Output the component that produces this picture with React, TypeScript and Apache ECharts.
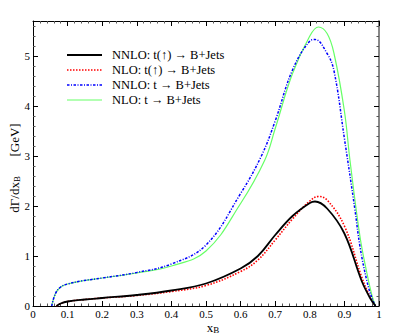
import React, { useEffect, useRef } from "react";
import * as echarts from "echarts";

const xTickLabels = ["0", "0.1", "0.2", "0.3", "0.4", "0.5", "0.6", "0.7", "0.8", "0.9", "1"];

const seriesNames = [
  "NNLO: t(\u2191) \u2192 B+Jets",
  "NLO: t(\u2191) \u2192 B+Jets",
  "NNLO: t \u2192 B+Jets",
  "NLO: t \u2192 B+Jets",
];

const xAxisTitle = "x{sub|B}";
const yAxisTitle = "d\u0393/dx{sub|B}      [GeV]";

const nnloPolX = [0.068, 0.08, 0.1, 0.15, 0.2, 0.3, 0.4, 0.5, 0.6, 0.65, 0.7, 0.75, 0.8, 0.815, 0.85, 0.9, 0.95, 0.975, 0.99];
const nnloPolY = [0, 0.05, 0.09, 0.13, 0.16, 0.22, 0.31, 0.45, 0.75, 1.0, 1.42, 1.8, 2.06, 2.09, 1.95, 1.45, 0.5, 0.15, 0];

const nloPolX = [0.068, 0.08, 0.1, 0.15, 0.2, 0.3, 0.4, 0.5, 0.6, 0.65, 0.7, 0.75, 0.8, 0.825, 0.85, 0.9, 0.95, 0.975, 0.99];
const nloPolY = [0, 0.05, 0.09, 0.13, 0.16, 0.21, 0.29, 0.41, 0.69, 0.92, 1.32, 1.74, 2.1, 2.19, 2.12, 1.6, 0.58, 0.17, 0];

const nnloX = [0.054, 0.065, 0.08, 0.1, 0.14, 0.2, 0.3, 0.4, 0.5, 0.6, 0.66, 0.7, 0.75, 0.8, 0.815, 0.85, 0.87, 0.9, 0.93, 0.945, 0.965, 0.98, 0.99];
const nnloY = [0, 0.25, 0.38, 0.44, 0.5, 0.56, 0.67, 0.84, 1.22, 2.25, 3.0, 3.7, 4.72, 5.3, 5.33, 5.05, 4.7, 3.35, 1.95, 1.19, 0.5, 0.15, 0];

const nloX = [0.054, 0.065, 0.08, 0.1, 0.14, 0.2, 0.3, 0.4, 0.5, 0.6, 0.67, 0.7, 0.75, 0.8, 0.825, 0.85, 0.87, 0.9, 0.916, 0.945, 0.965, 0.98, 0.99];
const nloY = [0, 0.25, 0.38, 0.44, 0.5, 0.56, 0.66, 0.8, 1.1, 2.05, 2.92, 3.55, 4.65, 5.4, 5.58, 5.45, 5.05, 3.9, 2.92, 1.39, 0.66, 0.2, 0];

const zip = (xs: number[], ys: number[]) => xs.map((x, i) => [x, ys[i]]);

const FONT = "'Liberation Serif', 'DejaVu Serif', serif";

const styles = [
  { color: "#000000", width: 1.8, dash: null as number[] | null },
  { color: "#ff0000", width: 1.6, dash: [1.5, 1.5] },
  { color: "#0000ff", width: 1.5, dash: [2.5, 1.5, 1, 1.5] },
  { color: "#66ff66", width: 1.2, dash: null as number[] | null },
];

export default function App() {
  const ref = useRef<HTMLDivElement>(null);
  useEffect(() => {
    if (!ref.current) return;
    document.body.style.margin = "0";
    const chart = echarts.init(ref.current, null, { renderer: "svg" });
    const axisCommon = {
      min: 0,
      axisLine: { show: true, onZero: false, lineStyle: { color: "#000", width: 1 } },
      axisTick: { show: true, inside: true, length: 5, lineStyle: { color: "#000" } },
      minorTick: { show: true, splitNumber: 5, length: 2.5, lineStyle: { color: "#555" } },
      splitLine: { show: false },
    };
    const rich = {
      sub: { fontFamily: FONT, fontSize: 9, fill: "#000", color: "#000", padding: [5, 0, 0, 0] },
    };
    const legendTop = 55;
    const legendStep = 15;
    const graphics: any[] = [];
    seriesNames.forEach((name, i) => {
      const y = legendTop + i * legendStep;
      graphics.push({
        type: "line",
        shape: { x1: 67, y1: y, x2: 102, y2: y },
        style: {
          stroke: styles[i].color,
          lineWidth: styles[i].width,
          lineDash: styles[i].dash || undefined,
        },
      });
      graphics.push({
        type: "text",
        x: 112,
        y: y,
        style: {
          text: name,
          fontFamily: FONT,
          fontSize: 12.5,
          fill: "#000",
          verticalAlign: "middle",
          align: "left",
        },
      });
    });
    graphics.push({
      type: "text",
      x: 213,
      y: 327,
      style: {
        text: xAxisTitle,
        fontFamily: FONT,
        fontSize: 13,
        fill: "#000",
        align: "center",
        verticalAlign: "middle",
        rich,
      },
    });
    graphics.push({
      type: "text",
      x: 14,
      y: 168,
      rotation: Math.PI / 2,
      style: {
        text: yAxisTitle,
        fontFamily: FONT,
        fontSize: 13,
        fill: "#000",
        align: "center",
        verticalAlign: "middle",
        rich,
      },
    });
    chart.setOption({
      animation: false,
      backgroundColor: "#fff",
      grid: { left: 33, right: 20, top: 21, bottom: 27, containLabel: false, outerBoundsMode: "none" },
      graphic: graphics,
      xAxis: [
        {
          ...axisCommon,
          type: "value",
          max: 1,
          interval: 0.1,
          axisLabel: {
            fontFamily: FONT,
            fontSize: 11,
            lineHeight: 11,
            color: "#000",
            margin: 2,
            formatter: (v: number) => xTickLabels[Math.round(v * 10)] ?? "",
          },
        },
        {
          ...axisCommon,
          type: "value",
          position: "top",
          max: 1,
          interval: 0.1,
          axisLabel: { show: false },
        },
      ],
      yAxis: [
        {
          ...axisCommon,
          type: "value",
          max: 5.7,
          interval: 1,
          axisLabel: {
            fontFamily: FONT,
            fontSize: 11,
            color: "#000",
            margin: 3,
            showMaxLabel: false,
          },
        },
        {
          ...axisCommon,
          type: "value",
          position: "right",
          max: 5.7,
          interval: 1,
          axisLine: { show: true, onZero: false, lineStyle: { color: "#888", width: 2 } },
          axisLabel: { show: false },
        },
      ],
      series: [
        { xs: nnloPolX, ys: nnloPolY, z: 5 },
        { xs: nloPolX, ys: nloPolY, z: 4 },
        { xs: nnloX, ys: nnloY, z: 4 },
        { xs: nloX, ys: nloY, z: 3 },
      ].map((s, i) => ({
        name: seriesNames[i],
        type: "line",
        smooth: 0.4,
        showSymbol: false,
        symbol: "none",
        data: zip(s.xs, s.ys),
        lineStyle: {
          color: styles[i].color,
          width: styles[i].width,
          type: styles[i].dash || "solid",
        },
        itemStyle: { color: styles[i].color },
        z: s.z,
      })),
    });
    return () => chart.dispose();
  }, []);
  return <div ref={ref} style={{ width: 399, height: 333 }} />;
}
